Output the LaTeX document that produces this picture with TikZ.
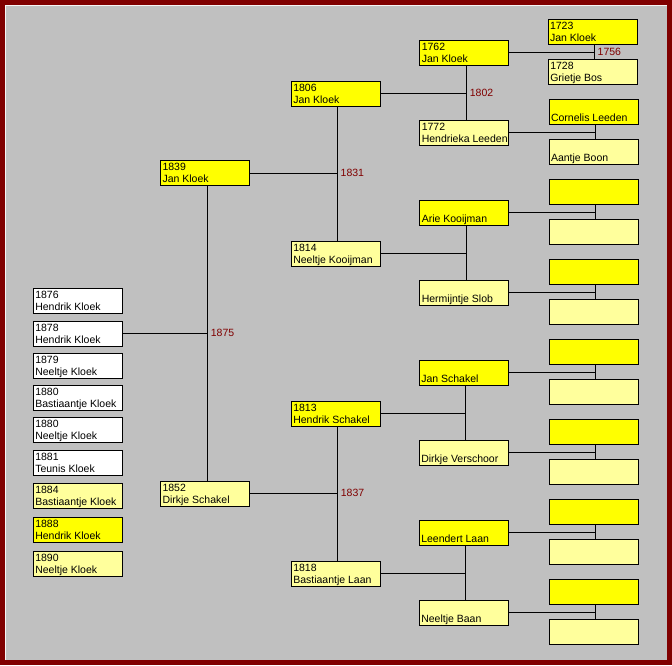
\documentclass[tikz,border=0pt]{standalone}
\usepackage{fontspec}
\setmainfont{Liberation Sans}
\definecolor{frame}{HTML}{800000}
\definecolor{bg}{HTML}{C0C0C0}
\definecolor{yel}{HTML}{FFFF00}
\definecolor{lyel}{HTML}{FFFF9C}
\definecolor{yr}{HTML}{800000}
\newcommand\pbtext[2]{\hspace*{2pt}\parbox[c][25pt][t]{87pt}{\raggedright\rule{0pt}{10pt}#1\\#2}}
\tikzset{
  pbox/.style={draw=black, line width=1pt, rectangle, inner sep=0pt, outer sep=0pt,
    minimum width=89pt, minimum height=25pt, anchor=north west,
    font=\fontsize{10.5pt}{12pt}\selectfont},
  yb/.style={pbox, fill=yel},
  lb/.style={pbox, fill=lyel},
  wb/.style={pbox, fill=white},
  conn/.style={draw=black, line width=1pt},
  yearlbl/.style={anchor=west, inner sep=0pt, text=yr, font=\fontsize{10.5pt}{12pt}\selectfont, xshift=3pt},
}
\begin{document}
\begin{tikzpicture}[x=1pt,y=-1pt]
\useasboundingbox (0,0) rectangle (672,665);
\fill[frame] (0,0) rectangle (672,665);
\fill[bg] (5,5) rectangle (667,660);
\draw[white!85!bg, line width=1pt] (5.5,660) -- (5.5,5.5) -- (667,5.5);

% children
\node[wb] (c1) at (33.3,288.3) {\pbtext{1876}{Hendrik Kloek}};
\node[wb] (c2) at (33.3,321.3) {\pbtext{1878}{Hendrik Kloek}};
\node[wb] (c3) at (33.3,353.3) {\pbtext{1879}{Neeltje Kloek}};
\node[wb] (c4) at (33.3,385.3) {\pbtext{1880}{Bastiaantje Kloek}};
\node[wb] (c5) at (33.3,417.3) {\pbtext{1880}{Neeltje Kloek}};
\node[wb] (c6) at (33.3,450.3) {\pbtext{1881}{Teunis Kloek}};
\node[lb] (c7) at (33.3,483.3) {\pbtext{1884}{Bastiaantje Kloek}};
\node[yb] (c8) at (33.3,517.3) {\pbtext{1888}{Hendrik Kloek}};
\node[lb] (c9) at (33.3,551.3) {\pbtext{1890}{Neeltje Kloek}};

% generation 1
\node[yb] (p1) at (160.5,160) {\pbtext{1839}{Jan Kloek}};
\node[lb] (p2) at (160.5,481.3) {\pbtext{1852}{Dirkje Schakel}};

% generation 2
\node[yb] (g1) at (291.3,81.3) {\pbtext{1806}{Jan Kloek}};
\node[lb] (g2) at (291.3,241.3) {\pbtext{1814}{Neeltje Kooijman}};
\node[yb] (g3) at (291.3,401.3) {\pbtext{1813}{Hendrik Schakel}};
\node[lb] (g4) at (291.3,561.3) {\pbtext{1818}{Bastiaantje Laan}};

% generation 3
\node[yb] (h1) at (419.8,40.8) {\pbtext{1762}{Jan Kloek}};
\node[lb] (h2) at (419.8,120.3) {\pbtext{1772}{Hendrieka Leeden}};
\node[yb] (h3) at (419.8,200.3) {\pbtext{}{Arie Kooijman}};
\node[lb] (h4) at (419.8,280.3) {\pbtext{}{Hermijntje Slob}};
\node[yb] (h5) at (419.3,360.3) {\pbtext{}{Jan Schakel}};
\node[lb] (h6) at (419.3,440.3) {\pbtext{}{Dirkje Verschoor}};
\node[yb] (h7) at (419.3,520.3) {\pbtext{}{Leendert Laan}};
\node[lb] (h8) at (419.3,600.3) {\pbtext{}{Neeltje Baan}};

% generation 4
\node[yb] (k1) at (548,19.3) {\pbtext{1723}{Jan Kloek}};
\node[lb] (k2) at (548.3,59.3) {\pbtext{1728}{Grietje Bos}};
\node[yb] (k3) at (549,99.3) {\pbtext{}{Cornelis Leeden}};
\node[lb] (k4) at (549,139.3) {\pbtext{}{Aantje Boon}};
\node[yb] (k5) at (549,179.3) {\pbtext{}{}};
\node[lb] (k6) at (549,219.3) {\pbtext{}{}};
\node[yb] (k7) at (549,259.3) {\pbtext{}{}};
\node[lb] (k8) at (549,299.3) {\pbtext{}{}};
\node[yb] (k9) at (549,339.3) {\pbtext{}{}};
\node[lb] (k10) at (549,379.3) {\pbtext{}{}};
\node[yb] (k11) at (549,419.3) {\pbtext{}{}};
\node[lb] (k12) at (549,459.3) {\pbtext{}{}};
\node[yb] (k13) at (549,499.3) {\pbtext{}{}};
\node[lb] (k14) at (549,539.3) {\pbtext{}{}};
\node[yb] (k15) at (549,579.3) {\pbtext{}{}};
\node[lb] (k16) at (549,619.3) {\pbtext{}{}};

% marriage junctions
\coordinate (m0) at (207.7,333.3);
\coordinate (m1) at (337.5,173.3);
\coordinate (m2) at (337.7,493.3);
\coordinate (m3) at (466.7,93.3);
\coordinate (m4) at (466.7,253.3);
\coordinate (m5) at (465.3,413.3);
\coordinate (m6) at (465.3,573.3);
\coordinate (m7) at (594.5,52.3);
\coordinate (m8) at (595.5,132.3);
\coordinate (m9) at (595.5,212.3);
\coordinate (m10) at (595.5,292.3);
\coordinate (m11) at (595.3,372.3);
\coordinate (m12) at (595.3,452.3);
\coordinate (m13) at (595.3,532.3);
\coordinate (m14) at (595.3,612.3);

\begin{scope}[on background layer/.style={}]
% child to marriage
\draw[conn] (c2.east |- m0) -- (m0);
\draw[conn] (p1.east |- m1) -- (m1);
\draw[conn] (p2.east |- m2) -- (m2);
\draw[conn] (g1.east |- m3) -- (m3);
\draw[conn] (g2.east |- m4) -- (m4);
\draw[conn] (g3.east |- m5) -- (m5);
\draw[conn] (g4.east |- m6) -- (m6);
\draw[conn] (h1.east |- m7) -- (m7);
\draw[conn] (h2.east |- m8) -- (m8);
\draw[conn] (h3.east |- m9) -- (m9);
\draw[conn] (h4.east |- m10) -- (m10);
\draw[conn] (h5.east |- m11) -- (m11);
\draw[conn] (h6.east |- m12) -- (m12);
\draw[conn] (h7.east |- m13) -- (m13);
\draw[conn] (h8.east |- m14) -- (m14);
% couples
\draw[conn] (p1.south -| m0) -- (p2.north -| m0);
\draw[conn] (g1.south -| m1) -- (g2.north -| m1);
\draw[conn] (g3.south -| m2) -- (g4.north -| m2);
\draw[conn] (h1.south -| m3) -- (h2.north -| m3);
\draw[conn] (h3.south -| m4) -- (h4.north -| m4);
\draw[conn] (h5.south -| m5) -- (h6.north -| m5);
\draw[conn] (h7.south -| m6) -- (h8.north -| m6);
\draw[conn] (k1.south -| m7) -- (k2.north -| m7);
\draw[conn] (k3.south -| m8) -- (k4.north -| m8);
\draw[conn] (k5.south -| m9) -- (k6.north -| m9);
\draw[conn] (k7.south -| m10) -- (k8.north -| m10);
\draw[conn] (k9.south -| m11) -- (k10.north -| m11);
\draw[conn] (k11.south -| m12) -- (k12.north -| m12);
\draw[conn] (k13.south -| m13) -- (k14.north -| m13);
\draw[conn] (k15.south -| m14) -- (k16.north -| m14);
\end{scope}

% marriage years
\node[yearlbl] (y0) at (m0) {1875};
\node[yearlbl] (y1) at (m1) {1831};
\node[yearlbl] (y2) at (m2) {1837};
\node[yearlbl] (y3) at (m3) {1802};
\node[yearlbl] (y7) at (m7) {1756};
\end{tikzpicture}
\end{document}
